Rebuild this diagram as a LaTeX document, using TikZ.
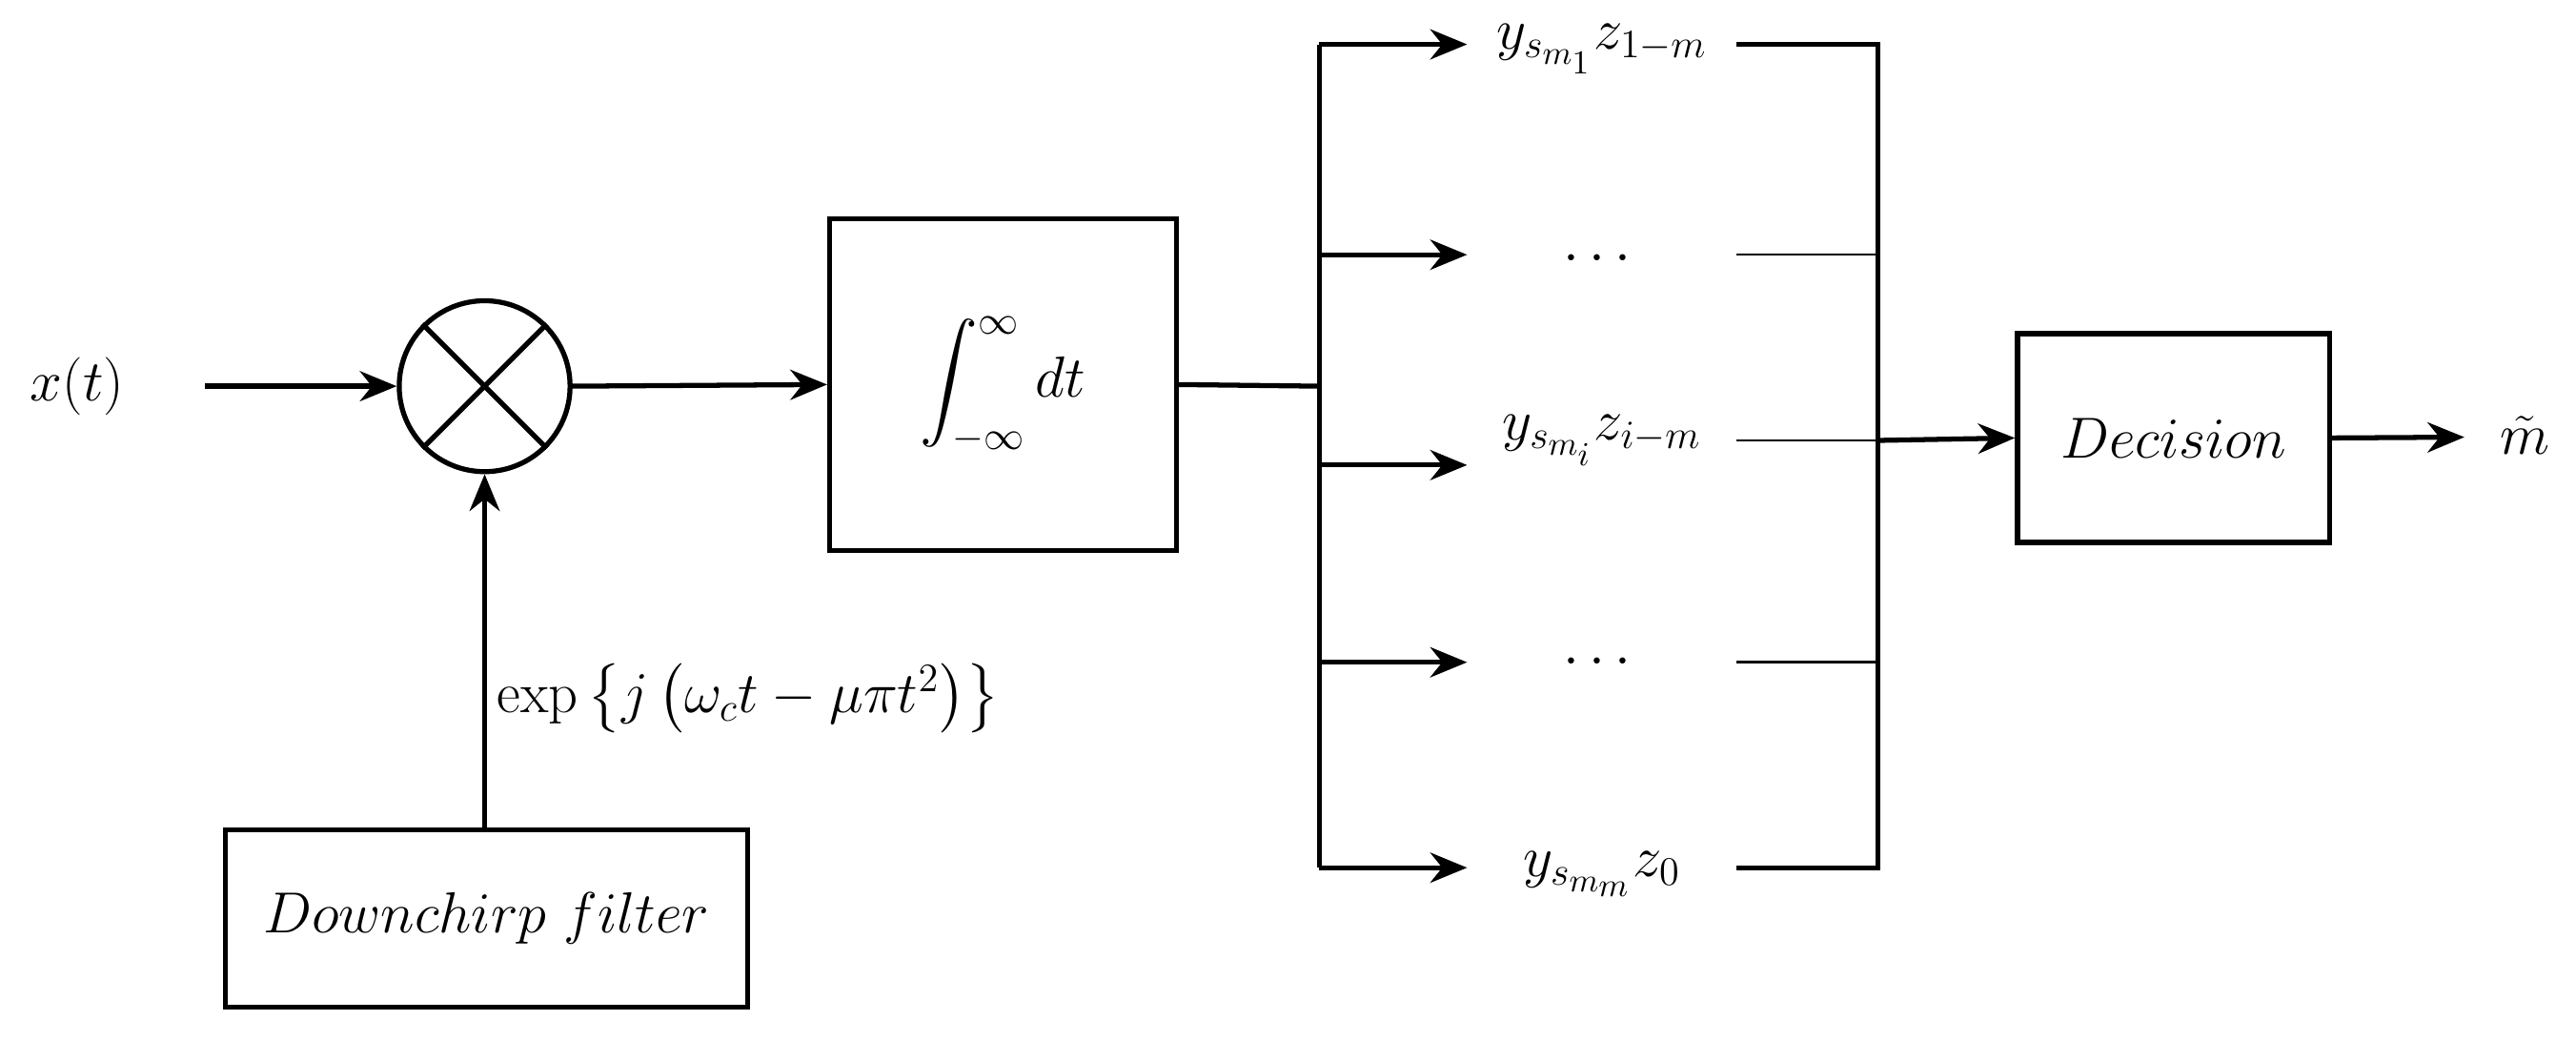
\documentclass[tikz,border=0pt]{standalone}
\usepackage{amsmath}
\usetikzlibrary{arrows.meta, positioning}

\begin{document}
\begin{tikzpicture}[
                x=0.01724cm, y=-0.01724cm,
                font=\LARGE,
                every path/.style={line width=1.5pt},
                block/.style={draw, rectangle, line width=1.5pt, inner sep=0pt},
                lbl/.style={inner sep=0pt},
                arr/.style={-{Stealth[length=11pt, width=9pt]}, line width=1.5pt},
                thin line/.style={line width=0.7pt}
            ]
            \useasboundingbox (0,0) rectangle (1568,633);

            % Entree et multiplieur
            \node[lbl] (xin) at (47,235) {$x(t)$};
            \coordinate (xstart) at (125,235);
            \node[draw, circle, line width=1.5pt, minimum size=104*0.01724cm, inner sep=0pt] (mix) at (295,235) {};
            \draw (mix.north west) -- (mix.south east) (mix.north east) -- (mix.south west);
            \draw[arr] (xstart) -- (mix.west);

            % Filtre downchirp
            \node[block, minimum width=318*0.01724cm, minimum height=108*0.01724cm] (chirp) at (296,559) {$Downchirp\ filter$};
            \draw[arr] (chirp.north -| mix) -- (mix.south);
            \node[lbl, anchor=west] (explbl) at (301,425) {$\exp\left\{j\left(\omega_c t-\mu\pi t^2\right)\right\}$};

            % Integrateur
            \node[block, minimum width=211*0.01724cm, minimum height=202*0.01724cm] (integ) at (610.5,234) {$\displaystyle\int_{-\infty}^{\infty} dt$};
            \draw[arr] (mix.east) -- (integ.west);

            % Bus et branches
            \coordinate (busL) at (803,235);
            \draw (integ.east) -- (busL);
            \draw (803,27) -- (803,528);
            \foreach \yy/\name/\txt/\ty in {27/b1/{y_{s_{m_1}}z_{1-m}}/30, 155/b2/{\cdots}/158, 283/b3/{y_{s_{m_i}}z_{i-m}}/268, 403/b4/{\cdots}/403, 528/b5/{y_{s_{m_m}}z_0}/532} {
                \coordinate (\name) at (803,\yy);
                \node[lbl] (\name t) at (975,\ty) {$\txt$};
                \draw[arr] (\name) -- (893,\yy);
            }

            % Sorties vers la decision
            \coordinate (busR) at (1143,268);
            \draw (1057,27) -- (1143,27) -- (1143,528) -- (1057,528);
            \draw[thin line] (1057,155) -- (1143,155);
            \draw[thin line] (1057,268) -- (1143,268);
            \draw[thin line] (1057,403) -- (1143,403);

            \node[block, minimum width=190*0.01724cm, minimum height=127*0.01724cm] (dec) at (1323,266.5) {$Decision$};
            \draw[arr] (busR) -- (dec.west);

            \node[lbl] (mout) at (1537,265) {$\tilde{m}$};
            \draw[arr] (dec.east) -- (1500,266);

        \end{tikzpicture}
\end{document}
